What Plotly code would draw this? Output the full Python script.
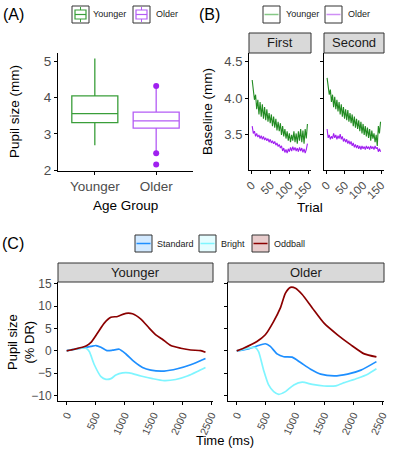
import plotly.graph_objects as go

# ---------------- Data ----------------
# Panel A: box summaries
groups = ["Younger", "Older"]
box_q1 = [3.31, 3.16]
box_median = [3.56, 3.36]
box_q3 = [4.05, 3.60]
box_low = [2.69, 2.52]
box_high = [5.08, 4.26]
older_outliers = [4.32, 2.47, 2.16]

# Panel B: baseline per trial
trials = [1, 4, 7, 10, 13, 16, 19, 22, 25, 28, 31, 34, 37, 40, 43, 46, 49, 52, 55, 58,
          61, 64, 67, 70, 73, 76, 79, 82, 85, 88, 91, 94, 97, 100, 103, 106, 109, 112, 115, 118,
          121, 124, 127, 130, 133, 136, 139, 142, 145, 148]
first_younger = [4.25, 4.12, 3.98, 4.05, 3.85, 3.98, 3.78, 3.95, 3.75, 3.92, 3.72, 3.88, 3.70, 3.85, 3.68,
                 3.80, 3.66, 3.78, 3.62, 3.75, 3.60, 3.72, 3.56, 3.68, 3.55, 3.66, 3.50, 3.62, 3.48, 3.58,
                 3.45, 3.55, 3.42, 3.52, 3.40, 3.50, 3.42, 3.55, 3.40, 3.52, 3.38, 3.55, 3.42, 3.58, 3.40,
                 3.56, 3.38, 3.58, 3.45, 3.65]
first_older = [3.62, 3.52, 3.55, 3.48, 3.52, 3.47, 3.50, 3.45, 3.49, 3.44, 3.48, 3.43, 3.46, 3.42, 3.45,
               3.40, 3.44, 3.39, 3.42, 3.38, 3.41, 3.36, 3.39, 3.34, 3.37, 3.32, 3.35, 3.28, 3.32, 3.26,
               3.30, 3.25, 3.31, 3.27, 3.33, 3.28, 3.34, 3.29, 3.33, 3.28, 3.32, 3.27, 3.33, 3.28, 3.32,
               3.26, 3.31, 3.25, 3.30, 3.38]
second_younger = [4.28, 4.15, 4.05, 4.12, 3.95, 4.05, 3.88, 4.02, 3.85, 3.98, 3.82, 3.95, 3.78, 3.92, 3.75,
                  3.88, 3.72, 3.85, 3.70, 3.84, 3.68, 3.80, 3.66, 3.78, 3.62, 3.75, 3.60, 3.72, 3.58, 3.70,
                  3.55, 3.68, 3.52, 3.65, 3.50, 3.62, 3.48, 3.60, 3.46, 3.58, 3.42, 3.56, 3.45, 3.52, 3.40,
                  3.50, 3.35, 3.62, 3.52, 3.68]
second_older = [3.58, 3.46, 3.50, 3.44, 3.48, 3.45, 3.52, 3.46, 3.50, 3.44, 3.49, 3.45, 3.51, 3.44, 3.48,
                3.41, 3.45, 3.40, 3.44, 3.38, 3.42, 3.37, 3.41, 3.35, 3.39, 3.33, 3.37, 3.32, 3.36, 3.31,
                3.35, 3.30, 3.35, 3.31, 3.34, 3.30, 3.35, 3.31, 3.34, 3.30, 3.35, 3.31, 3.34, 3.30, 3.35,
                3.31, 3.33, 3.27, 3.31, 3.27]

# Panel C: pupil response time courses
y_odd_t = [0, 133, 334, 420, 534, 650, 765, 880, 1024, 1138, 1283, 1426, 1541, 1655, 1800, 1972, 2145, 2317, 2400]
y_odd_v = [0, 0.37, 1.1, 1.9, 4.0, 6.2, 7.5, 7.7, 8.4, 8.3, 7.1, 5.1, 3.6, 2.6, 1.2, 0.6, 0.2, 0.07, -0.3]
y_std_t = [0, 248, 420, 506, 593, 696, 794, 909, 1024, 1167, 1311, 1455, 1685, 1914, 2144, 2400]
y_std_v = [0.05, 0.6, 1.0, 1.2, 0.8, 0.07, 0.15, 0.37, -0.7, -2.4, -3.7, -4.3, -4.5, -4.0, -3.1, -1.7]
y_brt_t = [0, 248, 334, 391, 478, 593, 679, 765, 851, 966, 1081, 1282, 1483, 1685, 1886, 2087, 2259, 2400]
y_brt_v = [0, 0.6, 0.6, -0.15, -3.1, -5.75, -6.35, -6.2, -5.4, -4.9, -4.9, -5.6, -6.2, -6.65, -6.4, -5.6, -4.6, -3.7]

o_odd_t = [0, 116, 347, 491, 635, 750, 837, 923, 1010, 1125, 1298, 1500, 1731, 1961, 2192, 2400]
o_odd_v = [0, 0.6, 2.1, 3.6, 6.6, 9.6, 12.9, 14.2, 14.0, 12.6, 9.6, 6.2, 3.6, 1.35, -0.67, -1.35]
o_std_t = [0, 174, 347, 491, 577, 693, 808, 952, 1096, 1269, 1442, 1673, 1904, 2134, 2400]
o_std_v = [0, 0.37, 1.1, 1.6, 1.0, -0.67, -1.3, -1.4, -2.6, -4.1, -5.2, -5.6, -5.2, -4.3, -2.4]
o_brt_t = [0, 318, 375, 462, 548, 635, 721, 837, 981, 1125, 1298, 1500, 1702, 1846, 2077, 2250, 2400]
o_brt_v = [0, 0.75, -0.15, -4.3, -7.6, -9.1, -9.7, -9.1, -7.6, -7.0, -7.5, -7.85, -7.8, -7.1, -6.1, -5.2, -4.0]

condition_names = ["Standard", "Bright", "Oddball"]

# ---------------- Styles ----------------
GREEN = "#3a9e3a"
GREEN_D = "#228b22"
PURPLE = "#a020f0"
PURPLE_L = "#b45cf5"
STD = "#1e8fff"
BRT = "#7ff5ff"
ODD = "#8b0000"
FONT = "Liberation Sans, Arial, sans-serif"
TICKC = "#4d4d4d"

W, H = 395, 454
def px(x):
    return x / W
def py(y):
    return 1 - y / H

fig = go.Figure()

# ---- Panel A ----
box_cols = [GREEN, PURPLE_L]
for i, g in enumerate(groups):
    fig.add_trace(go.Box(
        x=[g], q1=[box_q1[i]], median=[box_median[i]], q3=[box_q3[i]],
        lowerfence=[box_low[i]], upperfence=[box_high[i]],
        name=g, line=dict(color=box_cols[i], width=1.3), fillcolor="rgba(255,255,255,0)",
        whiskerwidth=0, width=0.75, boxpoints=False, showlegend=False,
        xaxis="x", yaxis="y"))
fig.add_trace(go.Scatter(
    x=["Older"] * len(older_outliers), y=older_outliers, mode="markers",
    marker=dict(color=PURPLE, size=6), showlegend=False, xaxis="x", yaxis="y"))

# ---- Panel B ----
for xa, ya, yv, ov in [("x2", "y2", first_younger, first_older),
                       ("x3", "y3", second_younger, second_older)]:
    fig.add_trace(go.Scatter(x=trials, y=yv, mode="lines", line=dict(color=GREEN_D, width=1.1),
                             name="Younger", showlegend=False, xaxis=xa, yaxis=ya))
    fig.add_trace(go.Scatter(x=trials, y=ov, mode="lines", line=dict(color=PURPLE, width=1.1),
                             name="Older", showlegend=False, xaxis=xa, yaxis=ya))

# ---- Panel C ----
sets = [("x4", "y4", (y_std_t, y_std_v), (y_brt_t, y_brt_v), (y_odd_t, y_odd_v)),
        ("x5", "y5", (o_std_t, o_std_v), (o_brt_t, o_brt_v), (o_odd_t, o_odd_v))]
for xa, ya, s, b, o in sets:
    for (tt, vv), col, nm in zip([s, b, o], [STD, BRT, ODD], condition_names):
        fig.add_trace(go.Scatter(x=tt, y=vv, mode="lines",
                                 line=dict(color=col, width=1.7, shape="spline", smoothing=0.6),
                                 name=nm, showlegend=False, xaxis=xa, yaxis=ya))

axis_common = dict(showgrid=False, zeroline=False, showline=True, linecolor="black", linewidth=1,
                   ticks="outside", ticklen=3, tickcolor="black", automargin=False)

def tf(size):
    return dict(size=size, color=TICKC, family=FONT)

fig.update_layout(
    width=W, height=H, margin=dict(l=0, r=0, t=0, b=0, autoexpand=False),
    paper_bgcolor="white", plot_bgcolor="white", showlegend=False,
    font=dict(family=FONT, color="black"),
    xaxis=dict(domain=[px(58), px(193)], anchor="y", range=[-0.6, 1.6], type="category",
               tickfont=tf(13.5), **axis_common),
    yaxis=dict(domain=[py(171), py(53)], anchor="x", range=[1.98, 5.23], tickvals=[2, 3, 4, 5],
               tickfont=tf(13.5), **axis_common),
    xaxis2=dict(domain=[px(249), px(311)], anchor="y2", range=[-7.5, 157.5], tickvals=[0, 50, 100, 150],
                tickangle=-45, tickfont=tf(11.5), **axis_common),
    yaxis2=dict(domain=[py(170), py(53)], anchor="x2", range=[3.02, 4.62], tickvals=[3.5, 4.0, 4.5],
                ticktext=["3.5", "4.0", "4.5"], tickfont=tf(13), **axis_common),
    xaxis3=dict(domain=[px(324), px(384)], anchor="y3", range=[-7.5, 157.5], tickvals=[0, 50, 100, 150],
                tickangle=-45, tickfont=tf(11.5), **axis_common),
    yaxis3=dict(domain=[py(170), py(53)], anchor="x3", range=[3.02, 4.62], tickvals=[3.5, 4.0, 4.5],
                showticklabels=False, **axis_common),
    xaxis4=dict(domain=[px(58), px(213)], anchor="y4", range=[-150, 2530], tickvals=[0, 500, 1000, 1500, 2000, 2500],
                tickangle=-65, tickfont=tf(10.5), **axis_common),
    yaxis4=dict(domain=[py(401), py(282)], anchor="x4", range=[-11.2, 15.4], tickvals=[-10, -5, 0, 5, 10, 15],
                tickfont=tf(12), **axis_common),
    xaxis5=dict(domain=[px(228), px(384)], anchor="y5", range=[-150, 2530], tickvals=[0, 500, 1000, 1500, 2000, 2500],
                tickangle=-65, tickfont=tf(10.5), **axis_common),
    yaxis5=dict(domain=[py(401), py(282)], anchor="x5", range=[-11.2, 15.4], tickvals=[-10, -5, 0, 5, 10, 15],
                showticklabels=False, **axis_common),
)

# Strips
strips = [(249, 311, 33, 53, "First"), (324, 384, 33, 53, "Second"),
          (58, 213, 263, 282, "Younger"), (228, 384, 263, 282, "Older")]
for x0, x1, y0, y1, label in strips:
    fig.add_shape(type="rect", xref="paper", yref="paper", x0=px(x0), x1=px(x1), y0=py(y1), y1=py(y0),
                  fillcolor="#d9d9d9", line=dict(color="#333333", width=1))
    fig.add_annotation(x=px((x0 + x1) / 2), y=py((y0 + y1) / 2), xref="paper", yref="paper",
                       text=label, showarrow=False, font=dict(size=13, color="#1a1a1a"),
                       xanchor="center", yanchor="middle")

# Legends (ggplot-style keys)
def key_rect(x0, y0, fill="white"):
    fig.add_shape(type="rect", xref="paper", yref="paper", x0=px(x0), x1=px(x0 + 17), y0=py(y0 + 17), y1=py(y0),
                  fillcolor=fill, line=dict(color="#333333", width=1))

def key_text(x, yc, text):
    fig.add_annotation(x=px(x), y=py(yc), xref="paper", yref="paper", text=text, showarrow=False,
                       font=dict(size=9, color="#1a1a1a"), xanchor="left", yanchor="middle")

def line_shape(x0, y0, x1, y1, col, w=1.3):
    fig.add_shape(type="line", xref="paper", yref="paper", x0=px(x0), x1=px(x1), y0=py(y0), y1=py(y1),
                  line=dict(color=col, width=w))

# A: box keys
for (kx, tx), col, nm in zip([(72, 91), (133, 154)], box_cols, groups):
    key_rect(kx, 6)
    line_shape(kx + 8.5, 7, kx + 8.5, 22, col, 1)
    fig.add_shape(type="rect", xref="paper", yref="paper", x0=px(kx + 3), x1=px(kx + 14),
                  y0=py(19), y1=py(10), fillcolor="white", line=dict(color=col, width=1.2))
    line_shape(kx + 3, 14.5, kx + 14, 14.5, col, 1.2)
    key_text(tx, 14.5, nm)

# B: line keys
for (kx, tx), col, nm in zip([(263, 284), (325, 346)], ["#86c886", "#cf8ff5"], ["Younger", "Older"]):
    key_rect(kx, 6)
    line_shape(kx + 1.5, 14.5, kx + 15.5, 14.5, col, 1.5)
    key_text(tx, 14.5, nm)

# C: filled line keys
c_fills = ["rgba(30,143,255,0.2)", "rgba(127,245,255,0.2)", "rgba(139,0,0,0.2)"]
for (kx, tx), col, fill, nm in zip([(135, 155), (199, 219), (252, 272)], [STD, BRT, ODD], c_fills, condition_names):
    key_rect(kx, 235, fill)
    line_shape(kx + 1.5, 243.5, kx + 15.5, 243.5, col, 1.5)
    key_text(tx, 243.5, nm)

# Titles and panel labels
annots = [
    (px(13), py(14), "(A)", 16, 0),
    (px(209), py(14), "(B)", 16, 0),
    (px(13), py(243), "(C)", 16, 0),
    (px(125), py(205), "Age Group", 13.5, 0),
    (px(310), py(207), "Trial", 13.5, 0),
    (px(225), py(440), "Time (ms)", 13, 0),
    (px(14), py(112), "Pupil size (mm)", 13.5, -90),
    (px(207), py(112), "Baseline (mm)", 13.5, -90),
    (px(21), py(342), "Pupil size<br>(% DR)", 13, -90),
]
for x, y, t, s, ang in annots:
    fig.add_annotation(x=x, y=y, xref="paper", yref="paper", text=t, showarrow=False,
                       font=dict(size=s, color="black"), textangle=ang,
                       xanchor="center", yanchor="middle")

fig.write_html("out.html")
